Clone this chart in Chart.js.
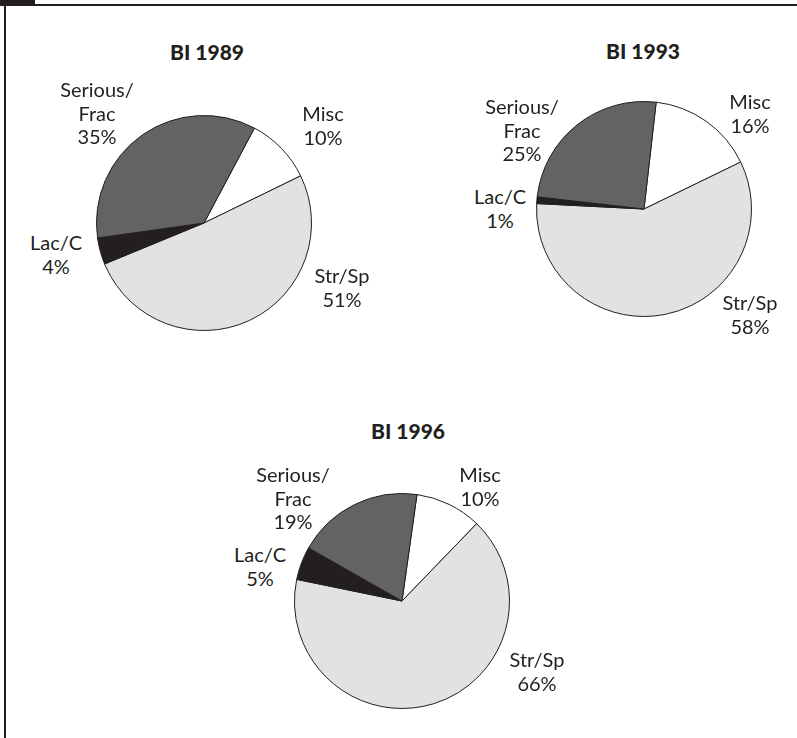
<!DOCTYPE html>
<html lang="en">
<head>
  <meta charset="UTF-8">
  <title>BI pies</title>
  <script src="https://cdn.jsdelivr.net/npm/chart.js"></script>
  <style>
    body {
      margin: 0;
      background: #ffffff;
      width: 797px;
      height: 738px;
      position: relative;
      overflow: hidden;
      font-family: 'Lato', sans-serif;
      color: #231f20;
    }
    .frame-tab { position: absolute; left: 0; top: 0; width: 35px; height: 5px; background: #231f20; }
    .frame-top { position: absolute; left: 0; top: 4px; width: 797px; height: 1.5px; background: #231f20; }
    .frame-left { position: absolute; left: 4px; top: 0; width: 2px; height: 738px; background: #231f20; }
    canvas { position: absolute; }
    .title, .lbl {
      position: absolute;
      transform: translateX(-50%);
      text-align: center;
      white-space: nowrap;
      font-size: 20px;
      line-height: 23.5px;
    }
    .title { font-weight: 900; font-size: 21px; }
  </style>
</head>
<body>
  <div class="frame-tab"></div>
  <div class="frame-top"></div>
  <div class="frame-left"></div>

  <script>
    // data
    const categories = ['Misc', 'Str/Sp', 'Lac/C', 'Serious/\nFrac'];
    const titles = ['BI 1989', 'BI 1993', 'BI 1996'];
    const values1989 = [10, 51, 4, 35];
    const values1993 = [16, 58, 1, 25];
    const values1996 = [10, 66, 5, 19];
    const colors = ['#ffffff', '#e1e2e4', '#231f20', '#636264'];

    // where each pie and its labels sit on the page
    const layout = [
      { values: values1989, rotation: 28, left: 96, top: 115, size: 216,
        title: [207, 40],
        labels: [[323, 102], [342, 264], [56, 231], [97, 78]] },
      { values: values1993, rotation: 6.5, left: 536, top: 101, size: 216,
        title: [643, 39],
        labels: [[750, 90], [750, 291], [500, 185], [522, 95]] },
      { values: values1996, rotation: 8, left: 294, top: 493, size: 216,
        title: [408, 419],
        labels: [[480, 463], [537, 648], [260, 543], [293, 463]] }
    ];

    function addText(cls, text, x, y) {
      const div = document.createElement('div');
      div.className = cls;
      div.style.left = x + 'px';
      div.style.top = y + 'px';
      div.innerHTML = text.split('\n').join('<br>');
      document.body.appendChild(div);
    }

    layout.forEach((p, i) => {
      const canvas = document.createElement('canvas');
      canvas.width = p.size;
      canvas.height = p.size;
      canvas.style.left = p.left + 'px';
      canvas.style.top = p.top + 'px';
      document.body.appendChild(canvas);

      new Chart(canvas.getContext('2d'), {
        type: 'pie',
        data: {
          labels: categories,
          datasets: [{
            data: p.values,
            backgroundColor: colors,
            borderColor: '#231f20',
            borderWidth: 1
          }]
        },
        options: {
          responsive: false,
          animation: false,
          events: [],
          rotation: p.rotation,
          layout: { padding: 0 },
          plugins: {
            legend: { display: false },
            tooltip: { enabled: false }
          }
        }
      });

      addText('title', titles[i], p.title[0], p.title[1]);
      categories.forEach((c, k) => {
        addText('lbl', c + '\n' + p.values[k] + '%', p.labels[k][0], p.labels[k][1]);
      });
    });
  </script>
</body>
</html>
